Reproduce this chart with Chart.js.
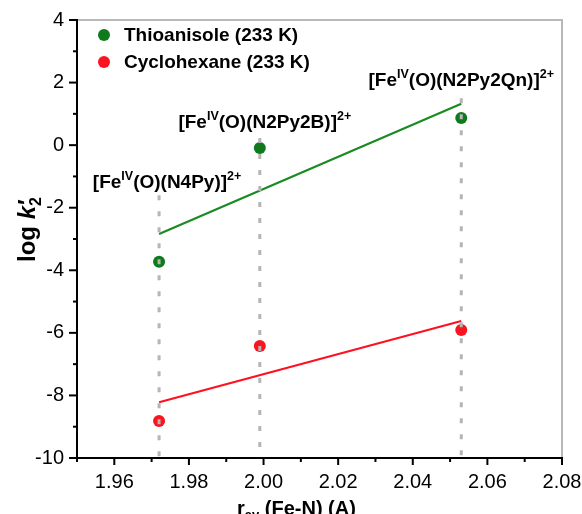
<!DOCTYPE html>
<html>
<head>
<meta charset="utf-8">
<script src="https://cdn.jsdelivr.net/npm/chart.js@4.4.1/dist/chart.umd.min.js"></script>
<style>
  html, body { margin: 0; padding: 0; background: #fff; }
  #wrap { width: 582px; height: 514px; }
</style>
</head>
<body>
<div id="wrap"><canvas id="c"></canvas></div>
<script>
// r_av (Fe-N) for each complex
var rAvg = [1.972, 1.999, 2.053];
// log k2' values
var thioanisole = [-3.73, -0.09, 0.87];
var cyclohexane = [-8.82, -6.42, -5.91];
// linear fit end points (at first and last r_av)
var thioFit = [-2.84, 1.32];
var cycloFit = [-8.22, -5.62];
// top of the dotted guide lines
var dropTop = [-1.6, 0.23, 1.5];
// complex labels: [main, sup, main, sup]
var complexes = [
  ['[Fe', 'IV', '(O)(N4Py)]', '2+'],
  ['[Fe', 'IV', '(O)(N2Py2B)]', '2+'],
  ['[Fe', 'IV', '(O)(N2Py2Qn)]', '2+']
];
var labelY = [-1.37, 0.55, 1.89];
var seriesNames = ['Thioanisole (233 K)', 'Cyclohexane (233 K)'];
var xTickLabels = ['1.96', '1.98', '2.00', '2.02', '2.04', '2.06', '2.08'];
var yTickLabels = ['-10', '-8', '-6', '-4', '-2', '0', '2', '4'];

var GREEN = '#0e7a1c', RED = '#fa1420', GREENLINE = '#1a8a22', REDLINE = '#ff1020';
var FONT = "'Liberation Sans', Arial, Helvetica, sans-serif";

function pts(xs, ys) {
  return xs.map(function(x, i) { return { x: x, y: ys[i] }; });
}

var datasets = [];
// dotted guide lines (drawn on top)
rAvg.forEach(function(x, i) {
  datasets.push({
    type: 'line', data: [{ x: x, y: dropTop[i] }, { x: x, y: -10 }],
    borderColor: '#b5b5b5', borderWidth: 3, borderDash: [5, 11],
    pointRadius: 0, fill: false
  });
});
datasets.push({
  type: 'line', data: pts([rAvg[0], rAvg[2]], thioFit),
  borderColor: GREENLINE, borderWidth: 2.2, pointRadius: 0, fill: false
});
datasets.push({
  type: 'line', data: pts([rAvg[0], rAvg[2]], cycloFit),
  borderColor: REDLINE, borderWidth: 2.2, pointRadius: 0, fill: false
});
datasets.push({
  label: seriesNames[0], data: pts(rAvg, thioanisole),
  backgroundColor: GREEN, borderColor: GREEN, pointRadius: 6, borderWidth: 0
});
datasets.push({
  label: seriesNames[1], data: pts(rAvg, cyclohexane),
  backgroundColor: RED, borderColor: RED, pointRadius: 6, borderWidth: 0
});

function drawRich(ctx, parts, cx, baseline, size, supSize) {
  var w = 0, i;
  for (i = 0; i < parts.length; i++) {
    ctx.font = 'bold ' + (i % 2 ? supSize : size) + 'px ' + FONT;
    w += ctx.measureText(parts[i]).width;
  }
  var x = cx - w / 2;
  ctx.textAlign = 'left';
  ctx.textBaseline = 'alphabetic';
  for (i = 0; i < parts.length; i++) {
    var sup = i % 2 === 1;
    ctx.font = 'bold ' + (sup ? supSize : size) + 'px ' + FONT;
    ctx.fillText(parts[i], x, sup ? baseline - size * 0.42 : baseline);
    x += ctx.measureText(parts[i]).width;
  }
}

var decor = {
  id: 'decor',
  afterDraw: function(chart) {
    var ctx = chart.ctx, a = chart.chartArea;
    var xs = chart.scales.x, ys = chart.scales.y;
    ctx.save();
    // frame
    ctx.lineCap = 'butt';
    ctx.strokeStyle = '#b8b8b8';
    ctx.lineWidth = 2;
    ctx.beginPath();
    ctx.moveTo(a.left, a.top); ctx.lineTo(a.right, a.top); ctx.lineTo(a.right, a.bottom);
    ctx.stroke();
    ctx.strokeStyle = '#000';
    ctx.beginPath();
    ctx.moveTo(a.left, a.top - 1); ctx.lineTo(a.left, a.bottom); ctx.lineTo(a.right + 1, a.bottom);
    ctx.stroke();
    // ticks
    xs.ticks.forEach(function(t) {
      var p = xs.getPixelForValue(t.value);
      var major = xTickLabels.indexOf(t.value.toFixed(2)) >= 0;
      ctx.beginPath(); ctx.moveTo(p, a.bottom); ctx.lineTo(p, a.bottom + (major ? 7 : 4)); ctx.stroke();
    });
    ys.ticks.forEach(function(t) {
      var p = ys.getPixelForValue(t.value);
      var major = yTickLabels.indexOf(String(Math.round(t.value))) >= 0;
      ctx.beginPath(); ctx.moveTo(a.left, p); ctx.lineTo(a.left - (major ? 8 : 4), p); ctx.stroke();
    });
    // legend
    var cols = [GREEN, RED];
    seriesNames.forEach(function(n, i) {
      var yy = a.top + 15 + i * 27;
      ctx.fillStyle = cols[i];
      ctx.beginPath(); ctx.arc(a.left + 27, yy, 6, 0, Math.PI * 2); ctx.fill();
      ctx.fillStyle = '#000';
      ctx.font = 'bold 19px ' + FONT;
      ctx.textAlign = 'left'; ctx.textBaseline = 'middle';
      ctx.fillText(n, a.left + 47, yy + 1);
    });
    // complex labels
    ctx.fillStyle = '#000';
    complexes.forEach(function(parts, i) {
      var cx = xs.getPixelForValue(rAvg[i]) + [8, 5, 0][i];
      drawRich(ctx, parts, cx, ys.getPixelForValue(labelY[i]), 19, 12.5);
    });
    // y title
    ctx.save();
    ctx.translate(35, 262);
    ctx.rotate(-Math.PI / 2);
    ctx.textAlign = 'left'; ctx.textBaseline = 'alphabetic';
    var x0 = 0;
    ctx.font = 'bold 24px ' + FONT;
    ctx.fillText('log ', x0, 0); x0 += ctx.measureText('log ').width;
    ctx.font = 'italic bold 24px ' + FONT;
    ctx.fillText('k', x0, 0); x0 += ctx.measureText('k').width;
    ctx.font = 'bold 16px ' + FONT;
    ctx.fillText('2', x0, 6);
    ctx.font = 'bold 24px ' + FONT;
    ctx.fillText('\u2032', x0 + 1, 0);
    ctx.restore();
    // x title
    ctx.textAlign = 'left'; ctx.textBaseline = 'alphabetic';
    var xx = 237, bl = 515;
    ctx.font = 'bold 20px ' + FONT;
    ctx.fillText('r', xx, bl); xx += ctx.measureText('r').width;
    ctx.font = 'bold 13px ' + FONT;
    ctx.fillText('av', xx, bl + 4); xx += ctx.measureText('av').width;
    ctx.font = 'bold 20px ' + FONT;
    ctx.fillText(' (Fe-N) (A)', xx, bl);
    ctx.restore();
  }
};

new Chart(document.getElementById('c'), {
  type: 'scatter',
  data: { datasets: datasets },
  options: {
    responsive: true,
    maintainAspectRatio: false,
    animation: false,
    layout: { padding: { top: 20, right: 20, left: 0, bottom: 0 } },
    plugins: { legend: { display: false }, tooltip: { enabled: false } },
    scales: {
      x: {
        type: 'linear', min: 1.95, max: 2.08,
        grid: { display: false, drawTicks: false },
        border: { display: false },
        ticks: {
          stepSize: 0.01, autoSkip: false, maxRotation: 0, padding: 12,
          color: '#000', font: { family: FONT, size: 20 },
          callback: function(v) { var s = v.toFixed(2); return xTickLabels.indexOf(s) >= 0 ? s : ''; }
        },
        afterFit: function(s) { s.height = 56; s.paddingLeft = 0; s.paddingRight = 0; }
      },
      y: {
        type: 'linear', min: -10, max: 4,
        grid: { display: false, drawTicks: false },
        border: { display: false },
        ticks: {
          stepSize: 1, autoSkip: false, padding: 13,
          color: '#000', font: { family: FONT, size: 20 },
          callback: function(v) { var s = String(Math.round(v)); return yTickLabels.indexOf(s) >= 0 ? s : ''; }
        },
        afterFit: function(s) { s.width = 77; s.paddingTop = 0; s.paddingBottom = 0; }
      }
    }
  },
  plugins: [decor]
});
</script>
</body>
</html>
